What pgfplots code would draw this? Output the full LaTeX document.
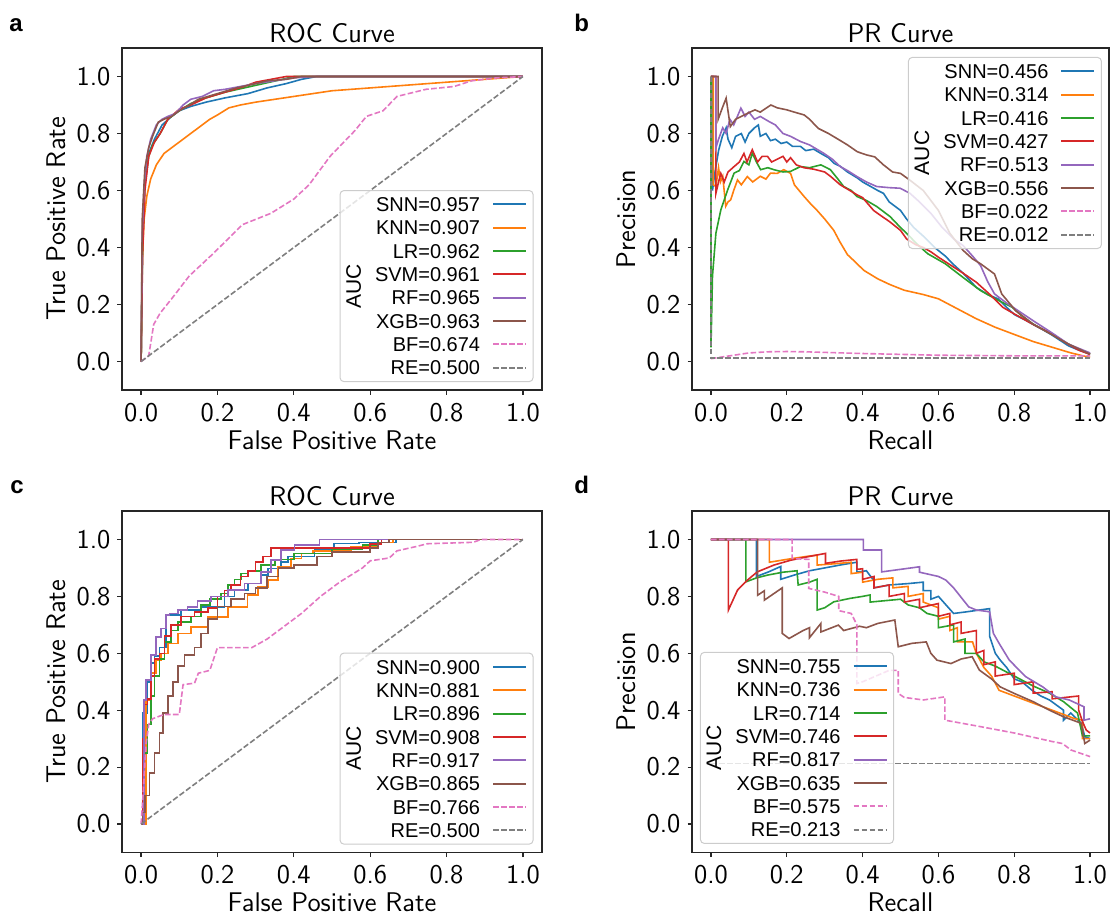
\documentclass[border=0pt]{standalone}
\usepackage{fontspec}
\usepackage{pgfplots}
\pgfplotsset{compat=1.18}
\newfontfamily\legfont{Liberation Sans}
\definecolor{cBlue}{HTML}{1F77B4}
\definecolor{cOrange}{HTML}{FF7F0E}
\definecolor{cGreen}{HTML}{2CA02C}
\definecolor{cRed}{HTML}{D62728}
\definecolor{cPurple}{HTML}{9467BD}
\definecolor{cBrown}{HTML}{8C564B}
\definecolor{cPink}{HTML}{E377C2}
\definecolor{cGray}{HTML}{7F7F7F}
\definecolor{legc}{HTML}{CCCCCC}
\newcommand{\leg}[1]{\addlegendentry{\hspace*{14.5pt}#1}}
\newcommand{\bigf}{\fontsize{13.5}{16}\sffamily}
\tikzset{dashy/.style={dash pattern=on 2.8pt off 1.2pt}}
\pgfplotsset{
  panel/.style={
    scale only axis,
    xmin=-0.05, xmax=1.05, ymin=-0.1, ymax=1.1,
    xtick={0,0.2,0.4,0.6,0.8,1}, ytick={0,0.2,0.4,0.6,0.8,1},
    tick pos=left, tick align=outside, major tick length=2.25pt,
    axis line style={line width=0.6pt, black!85},
    every tick/.style={line width=0.6pt, black!85},
    /pgf/number format/assume math mode=true,
    ticklabel style={font=\bigf},
    xticklabel style={/pgf/number format/fixed, /pgf/number format/fixed zerofill, /pgf/number format/precision=1, yshift=-0.75pt},
    yticklabel style={/pgf/number format/fixed, /pgf/number format/fixed zerofill, /pgf/number format/precision=1},
    every axis title/.style={at={(axis description cs:0.5,1.016)}, anchor=base, font=\bigf},
    every axis x label/.style={at={(axis description cs:0.5,-0.175)}, anchor=base, font=\bigf},
    every axis y label/.style={at={(axis description cs:-0.1345,0.5)}, rotate=90, anchor=base, font=\bigf},
    legend cell align=right,
    legend plot pos=right,
    legend style={font=\legfont\fontsize{10}{12}\selectfont, draw=legc, line width=0.5pt, rounded corners=2pt, fill=white, fill opacity=0.8, text opacity=1, draw opacity=1, inner xsep=3pt, inner ysep=1.1pt, row sep=0pt, column sep=6pt, nodes={inner sep=0pt, text height=9.44pt, text depth=2.23pt}},
    legend image code/.code={\draw[##1, line width=1pt, rounded corners=0pt] (0pt,0pt) -- (16.5pt,0pt);},
    every axis plot/.append style={line width=0.8pt},
  },
  roc/.style={const plot},
}
\begin{document}
\begin{tikzpicture}
\path[use as bounding box] (0,0) rectangle (555.5pt,458.5pt);
% ---------------- panel a
\begin{axis}[panel, at={(61pt,263.5pt)}, anchor=south west, width=210pt, height=171pt,
  title={ROC Curve}, xlabel={False Positive Rate}, ylabel={True Positive Rate},
  legend style={at={(0.98,0.023)}, anchor=south east, name=legA}]
\addplot[cBlue] coordinates {(0,0) (0.004,0.45) (0.01,0.63) (0.02,0.73) (0.035,0.78) (0.055,0.83) (0.08,0.86) (0.1,0.88) (0.13,0.895) (0.17,0.91) (0.22,0.925) (0.28,0.94) (0.33,0.96) (0.38,0.975) (0.42,0.99) (0.46,1) (1,1)};
\leg{SNN=0.957}
\addplot[cOrange] coordinates {(0,0) (0.003,0.35) (0.008,0.5) (0.015,0.58) (0.025,0.64) (0.04,0.69) (0.06,0.73) (0.08,0.75) (0.1,0.77) (0.12,0.79) (0.14,0.81) (0.16,0.83) (0.18,0.85) (0.2,0.865) (0.23,0.89) (0.26,0.9) (0.3,0.91) (0.35,0.92) (0.4,0.93) (0.45,0.94) (0.5,0.95) (0.6,0.96) (0.7,0.97) (0.8,0.98) (0.9,0.99) (1,1)};
\leg{KNN=0.907}
\addplot[cGreen] coordinates {(0,0) (0.004,0.42) (0.01,0.62) (0.02,0.72) (0.03,0.76) (0.05,0.8) (0.07,0.85) (0.1,0.88) (0.13,0.905) (0.17,0.925) (0.22,0.945) (0.27,0.96) (0.32,0.975) (0.37,0.99) (0.4,1) (1,1)};
\leg{LR=0.962}
\addplot[cRed] coordinates {(0,0) (0.004,0.38) (0.01,0.6) (0.02,0.72) (0.035,0.77) (0.05,0.8) (0.07,0.85) (0.1,0.885) (0.13,0.9) (0.17,0.925) (0.22,0.945) (0.27,0.965) (0.3,0.98) (0.34,0.99) (0.38,1) (1,1)};
\leg{SVM=0.961}
\addplot[cPurple] coordinates {(0,0) (0.003,0.45) (0.008,0.62) (0.015,0.72) (0.025,0.78) (0.04,0.83) (0.055,0.85) (0.07,0.86) (0.09,0.87) (0.11,0.9) (0.13,0.92) (0.16,0.93) (0.19,0.95) (0.22,0.955) (0.26,0.965) (0.3,0.975) (0.35,0.985) (0.4,0.995) (0.45,1) (1,1)};
\leg{RF=0.965}
\addplot[cBrown] coordinates {(0,0) (0.003,0.5) (0.01,0.68) (0.02,0.75) (0.03,0.79) (0.045,0.84) (0.06,0.85) (0.08,0.86) (0.1,0.88) (0.12,0.895) (0.15,0.92) (0.2,0.94) (0.25,0.96) (0.3,0.975) (0.33,0.985) (0.38,0.99) (0.42,1) (1,1)};
\leg{XGB=0.963}
\addplot[cPink, dashy] coordinates {(0,0) (0.02,0.02) (0.033,0.13) (0.05,0.17) (0.08,0.22) (0.126,0.3) (0.19,0.38) (0.265,0.48) (0.34,0.52) (0.4,0.57) (0.44,0.62) (0.495,0.72) (0.56,0.81) (0.59,0.86) (0.634,0.88) (0.67,0.93) (0.746,0.955) (0.82,0.965) (0.866,0.985) (0.93,0.995) (1,1)};
\leg{BF=0.674}
\addplot[cGray, dashy] coordinates {(0,0) (1,1)};
\leg{RE=0.500}
\end{axis}
% ---------------- panel b
\begin{axis}[panel, at={(346pt,263.5pt)}, anchor=south west, width=208.5pt, height=171pt,
  title={PR Curve}, xlabel={Recall}, ylabel={Precision},
  every axis y label/.style={at={(axis description cs:-0.1367,0.5)}, rotate=90, anchor=base, font=\bigf},
  legend style={at={(0.983,0.974)}, anchor=north east, name=legB}]
\addplot[cBlue] coordinates {(0,1) (0.004,1) (0.004,0.6) (0.01,0.66) (0.02,0.74) (0.03,0.79) (0.04,0.82) (0.045,0.78) (0.055,0.75) (0.065,0.79) (0.08,0.8) (0.09,0.77) (0.1,0.8) (0.115,0.82) (0.125,0.83) (0.13,0.79) (0.145,0.8) (0.157,0.775) (0.17,0.78) (0.185,0.765) (0.2,0.77) (0.215,0.755) (0.236,0.755) (0.25,0.74) (0.271,0.745) (0.29,0.73) (0.31,0.715) (0.325,0.695) (0.341,0.685) (0.36,0.665) (0.385,0.645) (0.4,0.63) (0.42,0.615) (0.44,0.6) (0.455,0.59) (0.47,0.56) (0.49,0.54) (0.5,0.53) (0.516,0.5) (0.535,0.47) (0.56,0.44) (0.59,0.4) (0.618,0.37) (0.64,0.34) (0.665,0.31) (0.7,0.26) (0.73,0.235) (0.757,0.22) (0.78,0.19) (0.8,0.165) (0.83,0.145) (0.85,0.13) (0.875,0.112) (0.897,0.095) (0.92,0.075) (0.943,0.055) (0.97,0.04) (1,0.026)};
\leg{SNN=0.456}
\addplot[cOrange] coordinates {(0,1) (0.006,1) (0.006,0.62) (0.013,0.614) (0.02,0.68) (0.025,0.63) (0.031,0.65) (0.039,0.545) (0.045,0.56) (0.052,0.567) (0.06,0.6) (0.07,0.637) (0.08,0.62) (0.096,0.649) (0.11,0.63) (0.13,0.65) (0.145,0.64) (0.157,0.661) (0.175,0.66) (0.192,0.673) (0.21,0.66) (0.22,0.62) (0.245,0.58) (0.265,0.55) (0.28,0.53) (0.3,0.5) (0.324,0.46) (0.34,0.42) (0.36,0.375) (0.38,0.35) (0.403,0.32) (0.44,0.29) (0.472,0.27) (0.51,0.25) (0.56,0.235) (0.6,0.22) (0.65,0.185) (0.7,0.15) (0.75,0.12) (0.8,0.095) (0.85,0.07) (0.9,0.05) (0.95,0.03) (1,0.014)};
\leg{KNN=0.314}
\addplot[cGreen] coordinates {(0,1) (0,0.05) (0.004,0.3) (0.013,0.45) (0.026,0.532) (0.044,0.602) (0.061,0.661) (0.075,0.67) (0.087,0.702) (0.1,0.69) (0.109,0.731) (0.12,0.7) (0.131,0.673) (0.15,0.68) (0.166,0.673) (0.19,0.665) (0.21,0.667) (0.236,0.684) (0.26,0.68) (0.29,0.69) (0.315,0.673) (0.335,0.64) (0.35,0.614) (0.37,0.6) (0.385,0.579) (0.41,0.565) (0.437,0.544) (0.472,0.509) (0.5,0.47) (0.516,0.45) (0.545,0.41) (0.572,0.378) (0.618,0.343) (0.66,0.3) (0.711,0.249) (0.75,0.22) (0.795,0.19) (0.82,0.16) (0.85,0.131) (0.9,0.095) (0.943,0.061) (1,0.025)};
\leg{LR=0.416}
\addplot[cRed] coordinates {(0,1) (0.013,1) (0.013,0.59) (0.02,0.63) (0.026,0.66) (0.035,0.63) (0.045,0.665) (0.061,0.684) (0.075,0.7) (0.087,0.73) (0.095,0.7) (0.109,0.743) (0.123,0.7) (0.135,0.72) (0.149,0.72) (0.16,0.7) (0.175,0.71) (0.19,0.72) (0.2,0.7) (0.21,0.715) (0.225,0.69) (0.245,0.68) (0.27,0.675) (0.3,0.665) (0.315,0.65) (0.341,0.62) (0.36,0.605) (0.385,0.585) (0.4,0.575) (0.429,0.53) (0.45,0.51) (0.472,0.49) (0.5,0.46) (0.516,0.43) (0.54,0.41) (0.56,0.4) (0.58,0.385) (0.6,0.366) (0.63,0.34) (0.665,0.31) (0.7,0.278) (0.74,0.23) (0.77,0.19) (0.8,0.167) (0.85,0.13) (0.9,0.096) (0.943,0.06) (0.97,0.04) (1,0.025)};
\leg{SVM=0.427}
\addplot[cPurple] coordinates {(0,1) (0.013,1) (0.013,0.75) (0.02,0.78) (0.031,0.82) (0.04,0.8) (0.05,0.85) (0.06,0.83) (0.079,0.889) (0.09,0.86) (0.1,0.875) (0.115,0.85) (0.13,0.86) (0.153,0.842) (0.17,0.83) (0.19,0.8) (0.21,0.79) (0.236,0.772) (0.26,0.76) (0.297,0.731) (0.32,0.71) (0.341,0.684) (0.36,0.67) (0.385,0.649) (0.41,0.63) (0.437,0.614) (0.47,0.61) (0.499,0.608) (0.525,0.59) (0.55,0.56) (0.58,0.52) (0.61,0.47) (0.64,0.43) (0.665,0.407) (0.69,0.37) (0.711,0.337) (0.73,0.28) (0.748,0.237) (0.78,0.205) (0.804,0.184) (0.85,0.143) (0.9,0.1) (0.943,0.061) (1,0.03)};
\leg{RF=0.513}
\addplot[cBrown] coordinates {(0,1) (0.019,1) (0.019,0.85) (0.03,0.89) (0.04,0.924) (0.051,0.824) (0.065,0.85) (0.08,0.86) (0.095,0.87) (0.116,0.883) (0.13,0.875) (0.158,0.9) (0.175,0.89) (0.2,0.883) (0.22,0.875) (0.246,0.865) (0.26,0.85) (0.283,0.818) (0.31,0.8) (0.339,0.777) (0.36,0.76) (0.386,0.736) (0.41,0.725) (0.432,0.718) (0.455,0.69) (0.479,0.665) (0.5,0.66) (0.525,0.636) (0.56,0.6) (0.6,0.53) (0.63,0.45) (0.665,0.39) (0.69,0.36) (0.711,0.343) (0.748,0.307) (0.767,0.237) (0.804,0.178) (0.85,0.131) (0.897,0.096) (0.943,0.061) (1,0.026)};
\leg{XGB=0.556}
\addplot[cPink, dashy] coordinates {(0,0.01) (0.05,0.02) (0.1,0.03) (0.15,0.034) (0.2,0.035) (0.25,0.034) (0.3,0.032) (0.4,0.028) (0.5,0.025) (0.6,0.022) (0.7,0.021) (0.8,0.02) (0.9,0.02) (1,0.02)};
\leg{BF=0.022}
\addplot[cGray, dashy] coordinates {(0,1) (0,0.012) (1,0.012)};
\leg{RE=0.012}
\end{axis}
% ---------------- panel c
\begin{axis}[panel, at={(61pt,32.25pt)}, anchor=south west, width=210pt, height=170.75pt,
  title={ROC Curve}, xlabel={False Positive Rate}, ylabel={True Positive Rate},
  every axis x label/.style={at={(axis description cs:0.5,-0.1728)}, anchor=base, font=\bigf},
  legend style={at={(0.98,0.023)}, anchor=south east, name=legC}]
\addplot[cBlue, roc] coordinates {(0,0) (0.004,0.39) (0.017,0.5) (0.026,0.565) (0.035,0.59) (0.048,0.62) (0.066,0.735) (0.105,0.752) (0.157,0.763) (0.218,0.8) (0.245,0.822) (0.28,0.845) (0.314,0.875) (0.332,0.898) (0.367,0.92) (0.384,0.94) (0.454,0.963) (0.506,0.986) (0.57,0.99) (0.668,1) (1,1)};
\leg{SNN=0.900}
\addplot[cOrange, roc] coordinates {(0,0) (0.013,0.436) (0.026,0.53) (0.039,0.576) (0.052,0.6) (0.07,0.635) (0.096,0.67) (0.131,0.693) (0.175,0.728) (0.227,0.763) (0.279,0.804) (0.306,0.834) (0.332,0.857) (0.358,0.904) (0.393,0.933) (0.42,0.95) (0.45,0.96) (0.55,0.975) (0.62,0.99) (0.66,1) (1,1)};
\leg{KNN=0.881}
\addplot[cGreen, roc] coordinates {(0,0) (0.008,0.25) (0.017,0.35) (0.026,0.45) (0.035,0.52) (0.048,0.58) (0.061,0.64) (0.079,0.68) (0.096,0.71) (0.13,0.73) (0.157,0.77) (0.18,0.79) (0.21,0.81) (0.227,0.84) (0.245,0.86) (0.262,0.88) (0.28,0.89) (0.314,0.91) (0.35,0.93) (0.4,0.95) (0.5,0.965) (0.58,0.98) (0.62,1) (1,1)};
\leg{LR=0.896}
\addplot[cRed, roc] coordinates {(0,0) (0.004,0.3) (0.009,0.42) (0.017,0.44) (0.026,0.52) (0.035,0.58) (0.048,0.6) (0.061,0.66) (0.079,0.7) (0.105,0.73) (0.14,0.745) (0.175,0.76) (0.2,0.8) (0.218,0.82) (0.236,0.84) (0.26,0.87) (0.28,0.89) (0.3,0.92) (0.32,0.94) (0.34,0.97) (0.6,0.985) (0.63,1) (1,1)};
\leg{SVM=0.908}
\addplot[cPurple, roc] coordinates {(0,0) (0.007,0.436) (0.013,0.506) (0.026,0.594) (0.039,0.658) (0.052,0.687) (0.066,0.734) (0.074,0.74) (0.096,0.752) (0.122,0.763) (0.148,0.783) (0.183,0.8) (0.227,0.822) (0.271,0.845) (0.314,0.886) (0.341,0.927) (0.367,0.963) (0.402,0.98) (0.467,1) (1,1)};
\leg{RF=0.917}
\addplot[cBrown, roc] coordinates {(0,0) (0.004,0.04) (0.01,0.1) (0.022,0.18) (0.035,0.25) (0.048,0.32) (0.057,0.39) (0.07,0.45) (0.083,0.5) (0.096,0.555) (0.114,0.595) (0.14,0.62) (0.157,0.67) (0.175,0.72) (0.2,0.765) (0.236,0.79) (0.271,0.81) (0.3,0.83) (0.33,0.87) (0.36,0.9) (0.4,0.91) (0.46,0.94) (0.5,0.955) (0.6,0.97) (0.62,0.99) (0.65,1) (1,1)};
\leg{XGB=0.865}
\addplot[cPink, dashy] coordinates {(0,0) (0.005,0.1) (0.013,0.28) (0.02,0.35) (0.03,0.37) (0.06,0.385) (0.1,0.385) (0.11,0.49) (0.14,0.495) (0.15,0.53) (0.18,0.54) (0.2,0.62) (0.29,0.62) (0.33,0.65) (0.37,0.69) (0.42,0.74) (0.47,0.8) (0.52,0.85) (0.58,0.9) (0.6,0.925) (0.65,0.935) (0.67,0.96) (0.72,0.975) (0.75,0.985) (0.87,0.99) (0.89,1) (1,1)};
\leg{BF=0.766}
\addplot[cGray, dashy] coordinates {(0,0) (1,1)};
\leg{RE=0.500}
\end{axis}
% ---------------- panel d
\begin{axis}[panel, at={(346pt,32.25pt)}, anchor=south west, width=208.5pt, height=170.75pt,
  title={PR Curve}, xlabel={Recall}, ylabel={Precision},
  every axis x label/.style={at={(axis description cs:0.5,-0.1728)}, anchor=base, font=\bigf},
  every axis y label/.style={at={(axis description cs:-0.1367,0.5)}, rotate=90, anchor=base, font=\bigf},
  legend style={at={(0.019,0.025)}, anchor=south west, name=legD}]
\addplot[cBlue] coordinates {(0,1) (0.12,1) (0.12,0.87) (0.15,0.885) (0.184,0.905) (0.184,0.86) (0.22,0.875) (0.26,0.89) (0.3,0.9) (0.34,0.91) (0.385,0.92) (0.385,0.885) (0.41,0.89) (0.43,0.855) (0.43,0.83) (0.47,0.84) (0.52,0.845) (0.56,0.85) (0.56,0.82) (0.58,0.82) (0.58,0.79) (0.6,0.8) (0.62,0.77) (0.64,0.74) (0.67,0.745) (0.708,0.752) (0.735,0.757) (0.735,0.66) (0.75,0.6) (0.763,0.576) (0.78,0.55) (0.8,0.51) (0.82,0.5) (0.847,0.47) (0.87,0.45) (0.893,0.436) (0.93,0.4) (0.93,0.365) (0.949,0.39) (0.977,0.354) (0.986,0.307) (1,0.3)};
\leg{SNN=0.755}
\addplot[cOrange] coordinates {(0,1) (0.154,1) (0.154,0.92) (0.2,0.93) (0.25,0.94) (0.28,0.945) (0.28,0.91) (0.33,0.915) (0.37,0.92) (0.37,0.88) (0.4,0.885) (0.4,0.85) (0.44,0.86) (0.48,0.865) (0.48,0.83) (0.52,0.835) (0.52,0.8) (0.56,0.81) (0.56,0.78) (0.6,0.76) (0.6,0.72) (0.63,0.73) (0.63,0.68) (0.65,0.69) (0.65,0.64) (0.69,0.64) (0.7,0.6) (0.72,0.55) (0.74,0.52) (0.76,0.47) (0.8,0.45) (0.84,0.43) (0.88,0.41) (0.92,0.39) (0.96,0.37) (0.98,0.365) (0.98,0.3) (1,0.3)};
\leg{KNN=0.736}
\addplot[cGreen] coordinates {(0,1) (0.092,1) (0.092,0.851) (0.12,0.865) (0.15,0.875) (0.19,0.885) (0.227,0.89) (0.23,0.84) (0.26,0.85) (0.28,0.86) (0.28,0.752) (0.3,0.76) (0.324,0.781) (0.367,0.793) (0.4,0.8) (0.42,0.805) (0.42,0.78) (0.46,0.785) (0.5,0.79) (0.52,0.77) (0.55,0.76) (0.57,0.74) (0.6,0.73) (0.6,0.69) (0.64,0.7) (0.64,0.64) (0.67,0.65) (0.67,0.6) (0.7,0.6) (0.72,0.57) (0.75,0.555) (0.8,0.52) (0.85,0.485) (0.893,0.46) (0.93,0.43) (0.967,0.39) (0.98,0.31) (1,0.31)};
\leg{LR=0.714}
\addplot[cRed] coordinates {(0,1) (0.046,1) (0.046,0.752) (0.07,0.822) (0.096,0.857) (0.122,0.886) (0.166,0.91) (0.21,0.927) (0.254,0.939) (0.302,0.951) (0.302,0.916) (0.341,0.924) (0.385,0.93) (0.385,0.895) (0.4,0.897) (0.4,0.86) (0.43,0.87) (0.43,0.83) (0.47,0.84) (0.47,0.8) (0.51,0.81) (0.51,0.78) (0.55,0.79) (0.55,0.76) (0.6,0.775) (0.6,0.73) (0.63,0.74) (0.63,0.7) (0.66,0.71) (0.66,0.67) (0.7,0.68) (0.7,0.6) (0.72,0.61) (0.72,0.56) (0.75,0.57) (0.75,0.52) (0.8,0.53) (0.8,0.49) (0.85,0.5) (0.85,0.46) (0.9,0.465) (0.9,0.44) (0.97,0.45) (0.97,0.4) (0.98,0.36) (0.99,0.33) (1,0.32)};
\leg{SVM=0.746}
\addplot[cPurple] coordinates {(0,1) (0.402,1) (0.402,0.963) (0.45,0.963) (0.45,0.886) (0.5,0.895) (0.55,0.904) (0.55,0.885) (0.6,0.87) (0.62,0.857) (0.64,0.83) (0.68,0.763) (0.7,0.752) (0.735,0.746) (0.745,0.67) (0.76,0.635) (0.787,0.576) (0.83,0.518) (0.875,0.482) (0.91,0.447) (0.945,0.436) (0.984,0.412) (0.984,0.365) (1,0.37)};
\leg{RF=0.817}
\addplot[cBrown] coordinates {(0,1) (0.123,1) (0.123,0.804) (0.141,0.82) (0.141,0.787) (0.188,0.83) (0.188,0.67) (0.206,0.652) (0.243,0.68) (0.26,0.69) (0.26,0.655) (0.29,0.705) (0.29,0.675) (0.336,0.699) (0.35,0.68) (0.392,0.695) (0.41,0.69) (0.44,0.705) (0.485,0.717) (0.494,0.623) (0.53,0.635) (0.568,0.64) (0.58,0.6) (0.596,0.576) (0.633,0.564) (0.66,0.58) (0.689,0.588) (0.708,0.541) (0.74,0.51) (0.763,0.482) (0.8,0.459) (0.85,0.43) (0.893,0.4) (0.93,0.377) (0.977,0.354) (0.986,0.283) (1,0.295)};
\leg{XGB=0.635}
\addplot[cPink, dashy] coordinates {(0,1) (0.214,1) (0.214,0.933) (0.258,0.93) (0.258,0.828) (0.3,0.815) (0.337,0.8) (0.337,0.75) (0.37,0.74) (0.385,0.7) (0.385,0.494) (0.4,0.5) (0.47,0.54) (0.494,0.54) (0.494,0.459) (0.51,0.445) (0.56,0.436) (0.617,0.447) (0.617,0.365) (0.7,0.345) (0.8,0.32) (0.9,0.29) (0.927,0.283) (0.95,0.26) (1,0.237)};
\leg{BF=0.575}
\addplot[cGray, dashy] coordinates {(0,0.213) (1,0.213)};
\leg{RE=0.213}
\end{axis}
% AUC titles and panel letters
\tikzset{auc/.style={rotate=90, font=\legfont\fontsize{10.5}{12}\selectfont, inner sep=0pt}}
\node[auc] at ([xshift=7pt]legA.west) {AUC};
\node[auc] at ([xshift=7pt]legB.west) {AUC};
\node[auc] at ([xshift=7pt]legC.west) {AUC};
\node[auc] at ([xshift=7pt]legD.west) {AUC};
\tikzset{plab/.style={anchor=base west, inner sep=0pt, font=\legfont\bfseries\fontsize{12}{14}\selectfont}}
\node[plab] at (4.5pt,442.5pt) {a};
\node[plab] at (287pt,442.5pt) {b};
\node[plab] at (5pt,212pt) {c};
\node[plab] at (287pt,212pt) {d};
\end{tikzpicture}
\end{document}
